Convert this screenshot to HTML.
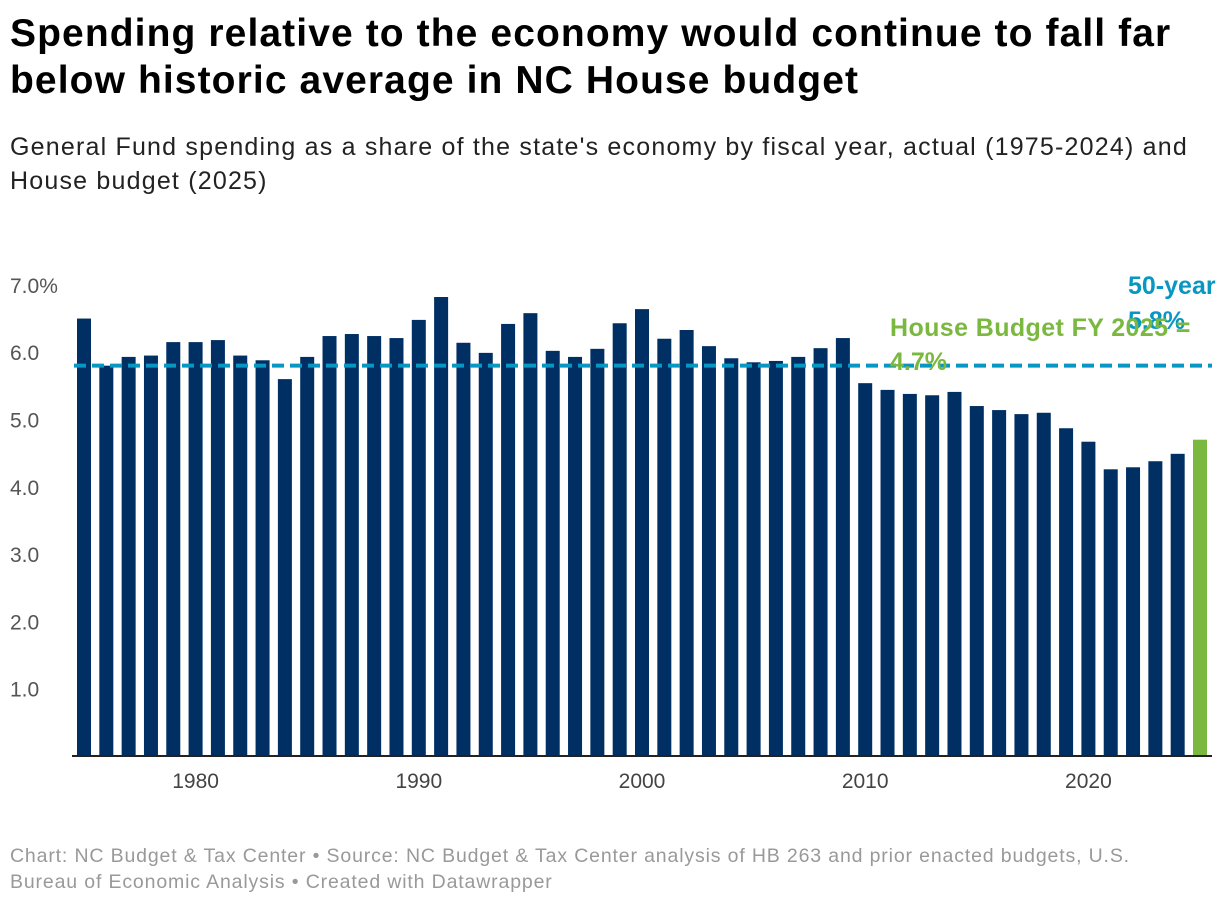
<!DOCTYPE html>
<html><head><meta charset="utf-8">
<style>
body{margin:0;background:#fff;font-family:"Liberation Sans",sans-serif;}
#wrap{position:relative;width:1220px;height:904px;overflow:hidden;}
h1{position:absolute;left:10px;top:10px;margin:0;font-size:39px;line-height:47px;font-weight:bold;color:#000;width:1210px;white-space:nowrap;letter-spacing:1.1px}
.sub{position:absolute;left:10px;top:130px;font-size:25px;line-height:34px;color:#222;width:1210px;white-space:nowrap;letter-spacing:1.2px}
.foot{position:absolute;left:10px;top:843px;font-size:19.5px;line-height:26px;color:#999;width:1210px;white-space:nowrap;letter-spacing:0.85px}
</style></head><body>
<div id="wrap">
<h1>Spending relative to the economy would continue to fall far<br>below historic average in NC House budget</h1>
<div class="sub">General Fund spending as a share of the state's economy by fiscal year, actual (1975-2024) and<br>House budget (2025)</div>
<svg id="chart" width="1220" height="904" style="position:absolute;left:0;top:0"></svg>
<div class="foot">Chart: NC Budget &amp; Tax Center • Source: NC Budget &amp; Tax Center analysis of HB 263 and prior enacted budgets, U.S.<br>Bureau of Economic Analysis • Created with Datawrapper</div>
</div>
<script>
const years=[];for(let y=1975;y<=2025;y++)years.push(y);
const values=[6.5,5.8,5.93,5.95,6.15,6.15,6.18,5.95,5.88,5.6,5.93,6.24,6.27,6.24,6.21,6.48,6.82,6.14,5.99,6.42,6.58,6.02,5.93,6.05,6.43,6.64,6.2,6.33,6.09,5.91,5.85,5.87,5.93,6.06,6.21,5.54,5.44,5.38,5.36,5.41,5.2,5.14,5.08,5.1,4.87,4.67,4.26,4.29,4.38,4.49,4.7];
const yTicks=[1,2,3,4,5,6,7];
const xTicks=[1980,1990,2000,2010,2020];
const average=5.8;
const NS="http://www.w3.org/2000/svg";
const svg=document.getElementById('chart');
const y0=756,pxPer=67.3;
const yS=v=>y0-v*pxPer;
const step=22.32,bw=14;
const xS=yr=>84+(yr-1975)*step;
function mk(t,a){const e=document.createElementNS(NS,t);for(const k in a)e.setAttribute(k,a[k]);svg.appendChild(e);return e;}
yTicks.forEach(t=>{
  const e=mk('text',{x:10,y:yS(t)+8,'font-size':21,fill:'#555','font-family':'Liberation Sans, sans-serif'});
  e.textContent=t===7?'7.0%':t.toFixed(1);
  
  
});
years.forEach((yr,i)=>{
  const r=mk('rect',{x:xS(yr)-bw/2,y:yS(values[i]),width:bw,height:values[i]*pxPer,fill:yr===2025?'#7bb83f':'#002f63'});
  
  
});
const ax=mk('line',{x1:72,x2:1212,y1:y0,y2:y0,stroke:'#222','stroke-width':2});


xTicks.forEach(t=>{
  const e=mk('text',{x:xS(t),y:788,'font-size':21,fill:'#444','text-anchor':'middle','font-family':'Liberation Sans, sans-serif'});
  e.textContent=t;
  
  
});
const av=mk('line',{x1:74,x2:1212,y1:yS(average),y2:yS(average),stroke:'#0797c2','stroke-width':4,'stroke-dasharray':'12,6'});


const l1=mk('text',{x:1128,y:294,'font-size':25,'font-weight':'bold',fill:'#0797c2','font-family':'Liberation Sans, sans-serif'});
l1.textContent='50-year';


const l1b=mk('text',{x:1128,y:329,'font-size':25,'font-weight':'bold',fill:'#0797c2','font-family':'Liberation Sans, sans-serif'});
l1b.textContent='5.8%';


const l2=mk('text',{x:890,y:336,'font-size':25,'font-weight':'bold',fill:'#7bb83f','font-family':'Liberation Sans, sans-serif','letter-spacing':'0.4'});
l2.textContent='House Budget FY 2025 =';


const l2b=mk('text',{x:890,y:370,'font-size':25,'font-weight':'bold',fill:'#7bb83f','font-family':'Liberation Sans, sans-serif'});
l2b.textContent='4.7%';


</script>
</body></html>
